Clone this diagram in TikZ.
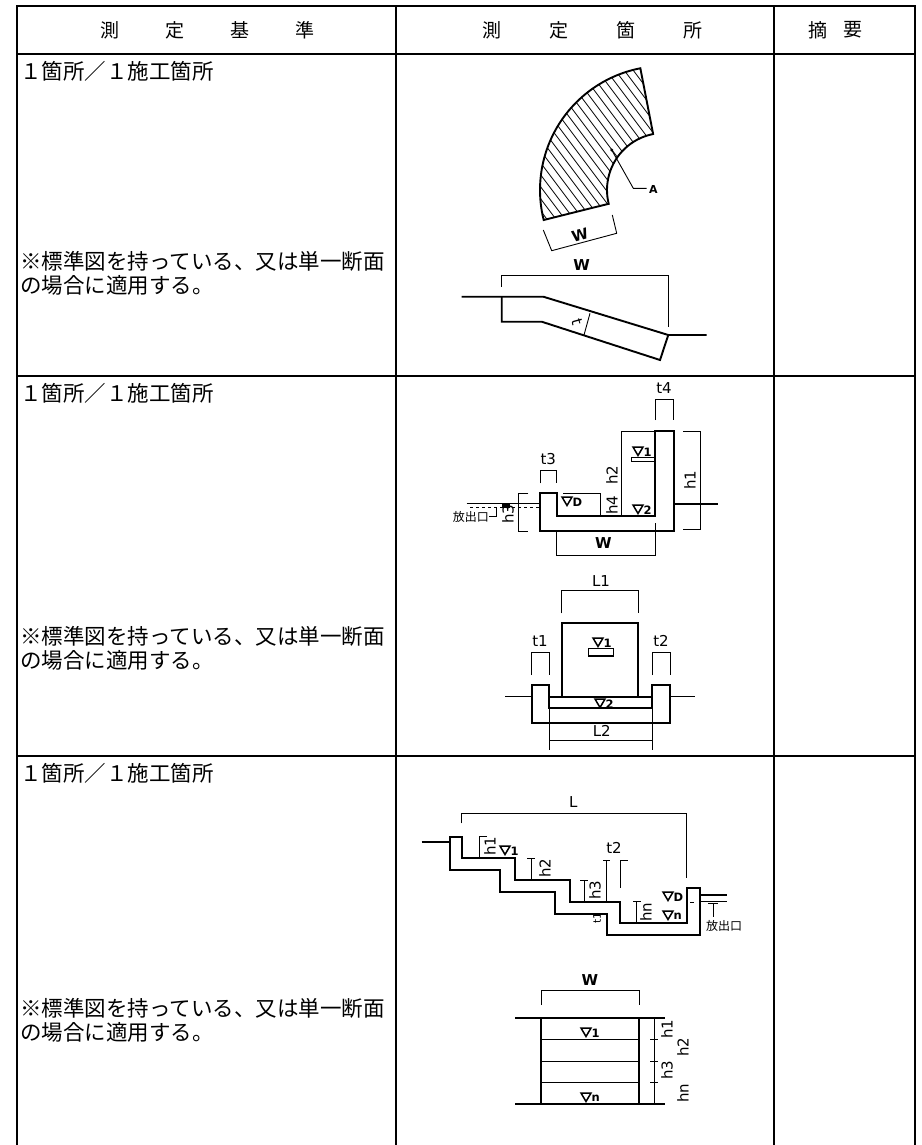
\documentclass[tikz,border=0pt]{standalone}
\usepackage{fontspec}
\usetikzlibrary{calc}
\newfontfamily\jpfont{Noto Sans CJK JP}
\newfontfamily\labfont{DejaVu Sans}
\tikzset{
  tline/.style={line width=2.4pt},
  outl/.style={line width=1.9pt, line join=miter},
  dimn/.style={line width=0.9pt},
  hatch/.style={line width=0.8pt},
  trimark/.style={line width=1.5pt, line join=miter},
  jp/.style={font=\jpfont\fontsize{21.5}{24}\selectfont, inner sep=0pt, anchor=west},
  hd/.style={font=\jpfont\fontsize{19}{22}\selectfont, inner sep=0pt},
  lab/.style={font=\labfont\fontsize{15}{15}\selectfont, inner sep=0pt},
  blab/.style={font=\labfont\bfseries\fontsize{15}{15}\selectfont, inner sep=0pt},
  wl/.style={font=\labfont\bfseries\fontsize{11.5}{11.5}\selectfont, inner sep=0pt, anchor=west},
  smalljp/.style={font=\jpfont\fontsize{12}{12}\selectfont, inner sep=0pt},
}
% water-level mark: #1 node name, #2 x, #3 y (triangle centre), #4 index text
\newcommand{\wmark}[4]{%
  \draw[trimark] (#2-5,#3+4) -- (#2+5,#3+4) -- (#2,#3-4.5) -- cycle;
  \node[wl] (#1) at (#2+5.5,#3-1) {#4};}
\begin{document}
\begin{tikzpicture}[x=1pt,y=1pt]
\useasboundingbox (0,0) rectangle (921,-1145);
% ---------------- table grid
\draw[tline] (17,-1145) -- (17,-6) -- (915,-6) -- (915,-1145);
\draw[tline] (396,-6) -- (396,-1145);
\draw[tline] (774,-6) -- (774,-1145);
\draw[tline] (17,-54) -- (915,-54);
\draw[tline] (17,-376) -- (915,-376);
\draw[tline] (17,-756) -- (915,-756);
% ---------------- header
\node[hd] (ha) at (110,-30) {測};
\node[hd] (hb) at (175,-30) {定};
\node[hd] (hc) at (240,-30) {基};
\node[hd] (hdd) at (305,-30) {準};
\node[hd] (hbA) at (492,-30) {測};
\node[hd] (hbB) at (559,-30) {定};
\node[hd] (hbC) at (626,-30) {箇};
\node[hd] (hbD) at (693,-30) {所};
\node[hd] (hcA) at (818,-30) {摘};
\node[hd] (hcB) at (853,-30) {要};
% ---------------- left column texts
\node[jp] (r1a) at (20,-71) {１箇所／１施工箇所};
\node[jp] (r1b) at (20,-261) {※標準図を持っている、又は単一断面};
\node[jp] (r1c) at (20,-285) {の場合に適用する。};
\node[jp] (r2a) at (20,-393) {１箇所／１施工箇所};
\node[jp] (r2b) at (20,-636) {※標準図を持っている、又は単一断面};
\node[jp] (r2c) at (20,-660) {の場合に適用する。};
\node[jp] (r3a) at (20,-773) {１箇所／１施工箇所};
\node[jp] (r3b) at (20,-1008) {※標準図を持っている、又は単一断面};
\node[jp] (r3c) at (20,-1032) {の場合に適用する。};
% ================= Figure 1: curved sector
\coordinate (C) at (664,-190);
\begin{scope}
\clip ($(C)+(101:124pt)$) arc[start angle=101, end angle=194, radius=124pt]
  -- ($(C)+(194:57pt)$) arc[start angle=194, end angle=101, radius=57pt] -- cycle;
\foreach \x in {360,369,...,720} \draw[hatch] (\x,-30) -- ++(150,-200);
\end{scope}
\draw[outl] ($(C)+(101:124pt)$) arc[start angle=101, end angle=194, radius=124pt]
  -- ($(C)+(194:57pt)$) arc[start angle=194, end angle=101, radius=57pt] -- cycle;
\fill (611.7,-150) circle (1.6pt);
\draw[dimn] (611.7,-150) -- (633.3,-188.3) -- (646.7,-188.3);
\node[blab, anchor=west, font=\labfont\bfseries\fontsize{11}{11}\selectfont] (lA) at (649,-189) {A};
\draw[dimn] (543.3,-230) -- (551.7,-250.7) -- (616.7,-233.3) -- (612.3,-215);
\node[blab, rotate=15] (lW1) at (580,-235) {W};
% ================= Figure 1: slope section
\draw[outl] (461.7,-296.7) -- (543.3,-296.7) -- (668.3,-335) -- (706.7,-335);
\draw[outl] (501.7,-296.7) -- (501.7,-321.7) -- (541.7,-321.7) -- (660,-360) -- (668.3,-335);
\draw[dimn] (590,-313.3) -- (584,-335);
\node[lab, rotate=-75] (lt0) at (577,-322) {t};
\draw[dimn] (501.7,-286.7) -- (501.7,-275) -- (668.3,-275) -- (668.3,-326.7);
\node[blab] (lW2) at (581.7,-265) {W};
% ================= Figure 2: upper (U channel with wall)
\draw[outl] (540,-493.3) -- (540,-530.7) -- (674,-530.7) -- (674,-431) -- (655,-431)
  -- (655,-515.7) -- (556.7,-515.7) -- (556.7,-493.3) -- cycle;
\draw[dimn] (466.7,-503.3) -- (540,-503.3);
\draw[dimn, dashed] (470,-507) -- (540,-507);
\draw[outl] (674,-504.3) -- (718.3,-504.3);
\node[smalljp, anchor=east] (lout1) at (489,-516.7) {放出口};
\draw[dimn] (489,-516.7) -- (496.7,-516.7) -- (496.7,-507);
\fill (502,-503.5) rectangle (510,-507.5);
\draw[dimn] (528.3,-493.3) -- (518.3,-493.3) -- (518.3,-531.7) -- (528.3,-531.7);
\node[lab, rotate=90] (lh3a) at (508,-514) {h3};
\draw[dimn] (540,-483.3) -- (540,-470) -- (556.7,-470) -- (556.7,-483.3);
\node[lab] (lt3) at (548.3,-459) {t3};
\draw[dimn] (655,-420) -- (655,-399.3) -- (673.3,-399.3) -- (673.3,-420);
\node[lab] (lt4) at (664,-388) {t4};
\draw[dimn] (683.3,-431) -- (700,-431) -- (700,-529.3) -- (683.3,-529.3);
\node[lab, rotate=90] (lh1a) at (690,-480) {h1};
\draw[dimn] (655,-431) -- (621.7,-431) -- (621.7,-515.7);
\node[lab, rotate=90] (lh2a) at (612,-475) {h2};
\draw[dimn] (563.3,-493.3) -- (600,-493.3) -- (600,-515.7);
\node[lab, rotate=90] (lh4a) at (612,-505) {h4};
\wmark{wv1}{638}{-451}{1}
\draw[line width=1.5pt] (631.7,-457.3) rectangle (655,-461.7);
\wmark{wv2}{638}{-509}{2}
\wmark{wvD}{567}{-501}{D}
\draw[dimn] (556.7,-530.7) -- (556.7,-555) -- (655,-555) -- (655,-523);
\node[blab] (lW3) at (603.3,-543) {W};
% ================= Figure 2: lower (gate in channel)
\draw[outl] (561.7,-623.3) rectangle (638.3,-696.7);
\wmark{wv3}{598}{-642}{1}
\draw[line width=1.5pt] (588.3,-648.3) rectangle (613.3,-656);
\draw[outl] (531.7,-685) -- (531.7,-723.3) -- (670,-723.3) -- (670,-685) -- (652.3,-685)
  -- (652.3,-708.3) -- (549.3,-708.3) -- (549.3,-685) -- cycle;
\draw[dimn] (505,-696) -- (531.7,-696);
\draw[outl] (549.3,-696.7) -- (652.3,-696.7);
\draw[dimn] (670,-696) -- (695,-696);
\wmark{wv4}{600}{-703}{2}
\draw[dimn] (531.7,-675) -- (531.7,-652.7) -- (549.3,-652.7) -- (549.3,-675);
\node[lab] (lt1) at (540,-641) {t1};
\draw[dimn] (652.3,-675) -- (652.3,-652.7) -- (670,-652.7) -- (670,-675);
\node[lab] (lt2) at (661,-641) {t2};
\draw[dimn] (561.7,-613.3) -- (561.7,-590) -- (638.3,-590) -- (638.3,-613.3);
\node[lab] (lL1) at (601,-581) {L1};
\draw[dimn] (549.3,-708.3) -- (549.3,-750);
\draw[dimn] (652.3,-708.3) -- (652.3,-750);
\draw[dimn] (549.3,-740) -- (652.3,-740);
\node[lab] (lL2) at (601.7,-731) {L2};
% ================= Figure 3: upper (stepped channel)
\draw[outl] (450,-836.7) -- (450,-870) -- (500,-870) -- (500,-891.7) -- (555,-891.7)
  -- (555,-914) -- (606.7,-914) -- (606.7,-935) -- (700,-935) -- (700,-888.3)
  -- (686.7,-888.3) -- (686.7,-923.3) -- (620,-923.3) -- (620,-901.7) -- (570,-901.7)
  -- (570,-880) -- (515,-880) -- (515,-858.3) -- (461.7,-858.3) -- (461.7,-836.7) -- cycle;
\draw[outl] (421.7,-841.7) -- (450,-841.7);
\draw[outl] (700,-895) -- (726.7,-895);
\draw[dimn] (700,-901) -- (726.7,-901);
\draw[dimn] (690,-902.7) -- (694,-902.7);
\draw[dimn] (461.7,-823.3) -- (461.7,-813.3) -- (686.7,-813.3) -- (686.7,-878.3);
\node[lab] (lL) at (573.3,-802) {L};
\draw[dimn] (487,-836.7) -- (479,-836.7) -- (479,-858.3);
\node[lab, rotate=90] (lh1b) at (490,-846) {h1};
\wmark{wv5}{505}{-850}{1}
\draw[dimn] (527,-858.3) -- (535,-858.3);
\draw[dimn] (531.7,-858.3) -- (531.7,-880);
\node[lab, rotate=90] (lh2b) at (545,-868) {h2};
\draw[dimn] (580,-880) -- (588,-880);
\draw[dimn] (584.3,-880) -- (584.3,-901.7);
\node[lab, rotate=90] (lh3b) at (595,-890) {h3};
\draw[dimn] (603,-860) -- (610,-860);
\draw[dimn] (606.7,-860) -- (606.7,-901.7);
\draw[dimn] (620,-860) -- (628,-860);
\draw[dimn] (620,-860) -- (620,-888.3);
\node[lab] (lt2b) at (614,-848) {t2};
\node[lab, rotate=90, font=\labfont\fontsize{10.5}{10.5}\selectfont] (lt1b) at (597,-918) {t1};
\draw[dimn] (633,-901.7) -- (641,-901.7);
\draw[dimn] (636.7,-901.7) -- (636.7,-923.3);
\node[lab, rotate=90] (lhnb) at (646,-912) {hn};
\wmark{wvD2}{668}{-896}{D}
\wmark{wvn1}{668}{-915}{n}
\draw[dimn] (708.3,-903.3) -- (718.3,-903.3);
\draw[dimn] (713.3,-903.3) -- (713.3,-916.7);
\node[smalljp, anchor=west] (lout2) at (706,-926) {放出口};
% ================= Figure 3: lower (plan)
\draw[outl] (515,-1018.3) -- (665,-1018.3);
\draw[outl] (515,-1104) -- (665,-1104);
\draw[outl] (541,-1018.3) -- (541,-1104);
\draw[outl] (639.3,-1018.3) -- (639.3,-1104);
\foreach \yy in {-1039.3,-1061.7,-1082.7} {
  \draw[line width=1.3pt] (541,\yy) -- (639.3,\yy);
  \draw[dimn] (650,\yy) -- (658,\yy);
}
\wmark{wv6}{586}{-1032}{1}
\wmark{wvn2}{586}{-1097}{n}
\draw[dimn] (654,-1018.3) -- (654,-1104);
\draw[dimn] (541,-1005) -- (541,-990) -- (639.3,-990) -- (639.3,-1005);
\node[blab] (lW4) at (590,-980) {W};
\node[lab, rotate=90] (lh1c) at (667,-1029) {h1};
\node[lab, rotate=90] (lh2c) at (683,-1047) {h2};
\node[lab, rotate=90] (lh3c) at (667,-1070) {h3};
\node[lab, rotate=90] (lhnc) at (683,-1093) {hn};
\end{tikzpicture}
\end{document}
